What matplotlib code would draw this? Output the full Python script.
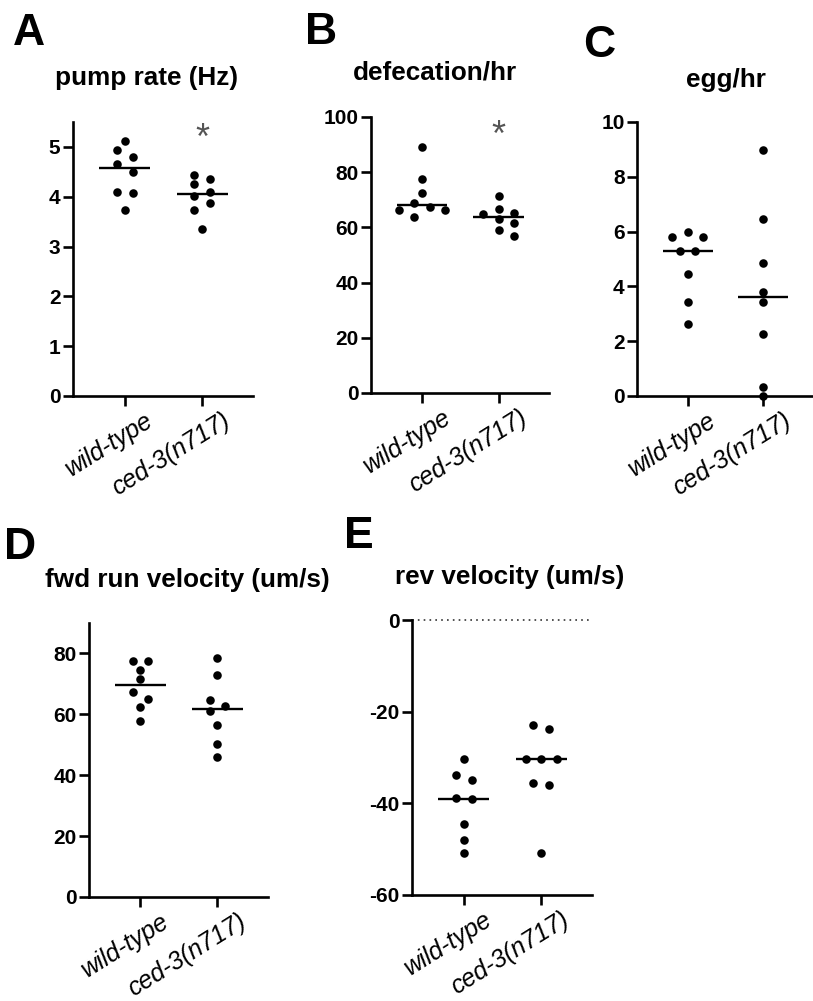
import numpy as np
import matplotlib
matplotlib.use("Agg")
import matplotlib.pyplot as plt
from matplotlib.transforms import ScaledTranslation

plt.rcParams['font.family'] = ['Liberation Sans', 'DejaVu Sans']
plt.rcParams['axes.unicode_minus'] = False

groups = ["wild-type", "ced-3(n717)"]

# values
pump_wt = [5.11, 4.93, 4.79, 4.65, 4.49, 4.10, 4.07, 3.73]
pump_ced = [4.43, 4.35, 4.26, 4.10, 4.01, 3.87, 3.73, 3.36]
defec_wt = [89.0, 77.6, 72.6, 68.8, 67.3, 66.3, 66.3, 63.7]
defec_ced = [71.2, 66.6, 65.1, 64.8, 63.0, 61.5, 59.0, 56.9]
egg_wt = [5.97, 5.81, 5.81, 5.29, 5.29, 4.46, 3.43, 2.61]
egg_ced = [8.98, 6.47, 4.84, 3.80, 3.43, 2.28, 0.32, 0.0]
fwd_wt = [77.5, 77.5, 74.5, 71.7, 67.3, 65.2, 62.4, 57.8]
fwd_ced = [78.6, 73.0, 64.8, 62.6, 61.0, 56.4, 50.1, 45.9]
rev_wt = [-30.3, -33.8, -34.9, -38.9, -39.1, -44.4, -47.9, -50.9]
rev_ced = [-22.9, -23.8, -30.4, -30.4, -30.4, -35.6, -36.1, -50.9]

W, H = 813, 1001
fig = plt.figure(figsize=(W / 100, H / 100), dpi=100)


def px_axes(x0, x1, y0, y1):
    # axes from pixel box (top-left origin)
    return fig.add_axes([x0 / W, 1 - y1 / H, (x1 - x0) / W, (y1 - y0) / H])


def spread(ax, values, center, gap=15.5, tol=8.4):
    # GraphPad-like scatter: near points go to side columns, each run is centred
    values = np.asarray(values, float)
    ypix = ax.transData.transform(np.column_stack([np.full(len(values), center), values]))[:, 1]
    order = np.argsort(-ypix, kind="stable")
    cols = np.zeros(len(values))
    chain = []
    prev = None

    def close(chain):
        if chain:
            c = cols[chain]
            cols[chain] -= (c.min() + c.max()) / 2

    for i in order:
        if prev is not None and ypix[prev] - ypix[i] >= tol:
            close(chain)
            chain = []
        for k in [0, 1, -1, 2, -2, 3, -3]:
            if all(cols[j] != k * gap or ypix[j] - ypix[i] >= tol for j in chain):
                break
        cols[i] = k * gap
        chain.append(i)
        prev = i
    close(chain)
    ppu = ax.transData.transform((1, 0))[0] - ax.transData.transform((0, 0))[0]
    return center + cols / ppu


panels = [
    # letter, title, data, ylim, yticks, axes px box, letter pos, title pos
    ("A", "pump rate (Hz)", (pump_wt, pump_ced), (0, 5.5), np.arange(0, 6, 1),
     (73, 253, 122, 396), (13, 45), (146, 78)),
    ("B", "defecation/hr", (defec_wt, defec_ced), (0, 100), np.arange(0, 101, 20),
     (371, 549, 117, 393), (305, 44), (435, 73)),
    ("C", "egg/hr", (egg_wt, egg_ced), (0, 10), np.arange(0, 11, 2),
     (637, 813, 122, 396), (583, 57), (726, 80)),
    ("D", "fwd run velocity (um/s)", (fwd_wt, fwd_ced), (0, 90), np.arange(0, 81, 20),
     (89, 268, 623, 897), (4, 559), (187, 580)),
    ("E", "rev velocity (um/s)", (rev_wt, rev_ced), (-60, 0), np.arange(-60, 1, 20),
     (412, 592, 620, 895), (344, 548), (510, 577)),
]

lw = 1.9
for letter, title, data, ylim, yticks, box, lpos, tpos in panels:
    ax = px_axes(*box)
    ax.set_xlim(-0.67, 1.66)
    ax.set_ylim(*ylim)
    ax.set_yticks(yticks)
    ax.set_xticks([0, 1])
    ax.set_xticklabels(["", ""])
    for s in ("top", "right"):
        ax.spines[s].set_visible(False)
    for s in ("left", "bottom"):
        ax.spines[s].set_linewidth(lw)
    ax.tick_params(width=lw, length=7, direction="out", labelsize=15, pad=2)
    for t in ax.get_yticklabels():
        t.set_fontweight("bold")

    for i, vals in enumerate(data):
        xs = spread(ax, vals, i)
        ax.scatter(xs, vals, s=38, color="black", linewidths=0, zorder=3, clip_on=False)
        ax.hlines(np.median(vals), i - 0.33, i + 0.33, color="black", lw=1.7, zorder=4)

    off = ScaledTranslation(20 / 100, -12 / 100, fig.dpi_scale_trans)
    for i, g in enumerate(groups):
        ax.text(i, 0, g, transform=ax.get_xaxis_transform() + off, rotation=32,
                rotation_mode="anchor", ha="right", va="top", fontsize=18,
                style="italic")

    fig.text(lpos[0] / W, 1 - lpos[1] / H, letter, fontsize=32, fontweight="bold",
             ha="left", va="baseline")
    fig.text(tpos[0] / W, 1 - tpos[1] / H, title, fontsize=18.8, fontweight="bold",
             ha="center", va="center")

    if letter == "A":
        ax.text(1, 5.14, "*", ha="center", va="center", fontsize=26, color="#555555")
    if letter == "B":
        ax.text(1, 92.8, "*", ha="center", va="center", fontsize=26, color="#555555")
    if letter == "E":
        ax.axhline(0, color="#333333", lw=1.2, ls=(0, (1, 2.5)), clip_on=False)

fig.savefig("out.png", dpi=100)
